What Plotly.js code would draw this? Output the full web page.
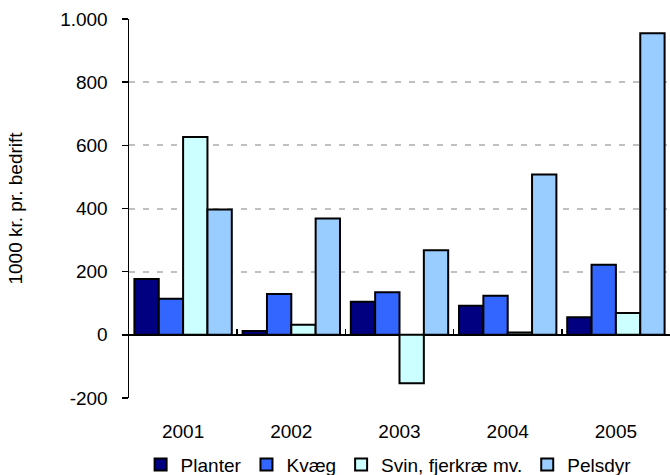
<!DOCTYPE html>
<html>
<head>
<meta charset="utf-8">
<script src="https://cdn.plot.ly/plotly-3.0.1.min.js"></script>
<style>html,body{margin:0;padding:0;background:#fff;}#chart{width:670px;height:475px;}</style>
</head>
<body>
<div id="chart"></div>
<script>
const years = ['2001', '2002', '2003', '2004', '2005'];
const planter = [177, 12, 105, 92, 56];
const kvaeg = [114, 129, 135, 124, 222];
const svin = [626, 32, -153, 7, 69];
const pelsdyr = [397, 368, 268, 508, 955];
const seriesNames = ['Planter', 'Kvæg', 'Svin, fjerkræ mv.', 'Pelsdyr'];
const seriesColors = ['#000080', '#3366FF', '#CCFFFF', '#99CCFF'];
const yTickVals = [-200, 0, 200, 400, 600, 800, 1000];
const yTickText = ['-200', '0', '200', '400', '600', '800', '1.000'];

const FONT = '"Liberation Sans", Arial, sans-serif';
const FS = 19;
const values = [planter, kvaeg, svin, pelsdyr];
const traces = values.map((v, i) => ({
  type: 'bar',
  name: seriesNames[i],
  x: years,
  y: v,
  marker: {color: seriesColors[i], line: {color: '#000000', width: 2}},
  hoverinfo: 'x+y+name'
}));

const layout = {
  width: 670, height: 475,
  margin: {l: 129, r: 0, t: 19, b: 77, pad: 0, autoexpand: false},
  paper_bgcolor: '#ffffff', plot_bgcolor: '#ffffff',
  font: {family: FONT, size: FS, color: '#000000'},
  barmode: 'group', bargap: 0.1, bargroupgap: 0,
  showlegend: true,
  legend: {orientation: 'h', x: 0.58, xanchor: 'center', xref: 'container',
    y: 0.022, yanchor: 'middle', yref: 'container',
    font: {family: FONT, size: FS, color: '#000'}, traceorder: 'normal',
    itemwidth: 30, tracegroupgap: 0},
  xaxis: {
    type: 'category', anchor: 'free', position: 200 / 1200,
    showline: false, showgrid: false, zeroline: false,
    ticks: 'inside', tickson: 'boundaries', ticklen: 6, tickwidth: 1.5, tickcolor: '#000',
    ticklabelstandoff: 83,
    tickfont: {family: FONT, size: FS, color: '#000'}
  },
  yaxis: {
    range: [-200, 1000], tickvals: yTickVals, ticktext: yTickText,
    showline: true, linecolor: '#000', linewidth: 1.5,
    ticks: 'outside', ticklen: 6, tickwidth: 1.5, tickcolor: '#000',
    ticklabelstandoff: 10,
    showgrid: true, gridcolor: '#C0C0C0', gridwidth: 2, griddash: '6px,8px',
    zeroline: true, zerolinecolor: '#000', zerolinewidth: 2,
    tickfont: {family: FONT, size: FS, color: '#000'},
    title: {text: '1000 kr. pr. bedrift', font: {family: FONT, size: FS, color: '#000'}, standoff: 32},
    automargin: false
  }
};

Plotly.newPlot('chart', traces, layout, {displayModeBar: false, staticPlot: true});
</script>
</body>
</html>
